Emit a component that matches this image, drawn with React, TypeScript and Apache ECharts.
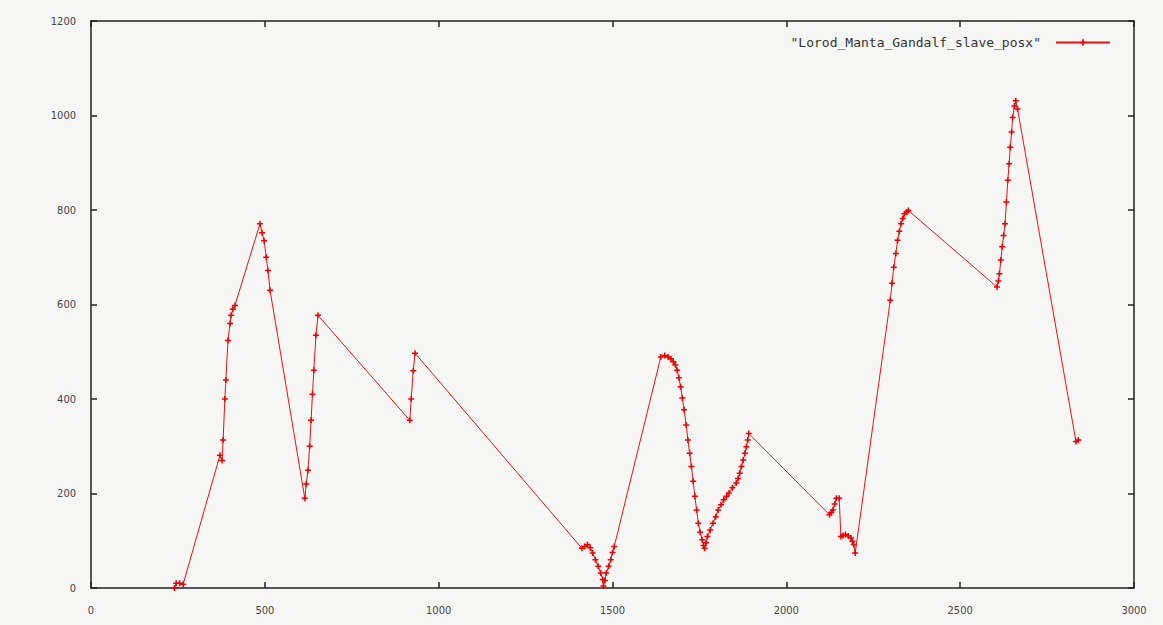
import React, { useEffect, useRef } from "react";
import * as echarts from "echarts";

const seriesName = '"Lorod_Manta_Gandalf_slave_posx"';

const xValues = [
  240, 245, 255, 265,
  371, 377, 380, 385, 388, 394, 400, 403, 408, 414,
  486, 492, 498, 504, 509, 515,
  615, 619, 624, 629, 633, 637, 641, 647, 653,
  917, 921, 927, 932,
  1412, 1420, 1428, 1436, 1443, 1451, 1459, 1466, 1472, 1474, 1478, 1482, 1489, 1495, 1500, 1505,
  1639, 1650, 1660, 1668, 1675, 1681, 1686, 1691, 1696, 1701, 1706, 1712, 1717, 1722, 1727, 1732, 1737, 1742, 1747, 1752, 1758, 1762, 1765, 1769, 1773, 1781, 1789, 1797, 1804, 1812, 1820, 1828, 1835, 1845, 1856, 1861, 1866, 1871, 1876, 1881, 1885, 1889, 1892,
  2124, 2129, 2134, 2139, 2144, 2152, 2157, 2163, 2170, 2178, 2186, 2190, 2194, 2198,
  2299, 2304, 2309, 2315, 2320, 2325, 2330, 2335, 2340, 2346, 2351,
  2606, 2610, 2613, 2617, 2621, 2625, 2629, 2633, 2637, 2641, 2644, 2648, 2651, 2656, 2660, 2665,
  2833, 2840,
];

const yValues = [
  0, 10, 10, 8,
  281, 270, 313, 400, 440, 524, 560, 577, 590, 598,
  771, 752, 735, 700, 672, 630,
  190, 220, 249, 300, 355, 410, 461, 535, 577,
  355, 400, 460, 497,
  84, 88, 92, 85, 74, 60, 46, 32, 18, 4, 16, 32, 46, 60, 75, 88,
  489, 492, 489, 485, 479, 472, 461, 445, 426, 402, 377, 345, 313, 285, 257, 226, 194, 165, 137, 118, 102, 90, 84, 96, 109, 123, 137, 151, 165, 176, 187, 194, 201, 212, 222, 232, 243, 257, 271, 285, 299, 313, 327,
  155, 160, 165, 178, 190, 190, 109, 111, 113, 110, 106, 99, 92, 74,
  609, 645, 679, 708, 736, 755, 771, 782, 792, 796, 799,
  637, 650, 665, 694, 722, 746, 771, 817, 863, 898, 933, 965, 996, 1020, 1031, 1014,
  310, 313,
];

const xTicks = [0, 500, 1000, 1500, 2000, 2500, 3000];
const yTicks = [0, 200, 400, 600, 800, 1000, 1200];

const plusSymbol = "path://M3,0H5V3H8V5H5V8H3V5H0V3H3Z";

export default function App() {
  const ref = useRef<HTMLDivElement>(null);

  useEffect(() => {
    document.body.style.margin = "0";
    document.body.style.background = "#f6f7f5";
    if (!ref.current) return;
    const chart = echarts.init(ref.current, null, { renderer: "svg" });
    const data = xValues.map((x, i) => [x, yValues[i]]);
    const labelStyle = {
      color: "#444",
      fontSize: 11,
      fontFamily: "DejaVu Sans Condensed, DejaVu Sans, sans-serif",
    };
    const axisCommon = {
      axisLine: { show: true, onZero: false, lineStyle: { color: "#222", width: 1.5 } },
      axisTick: { show: true, inside: true, length: 6, lineStyle: { color: "#222", width: 1.5 } },
      splitLine: { show: false },
    };
    chart.setOption({
      animation: false,
      backgroundColor: "#f6f7f5",
      grid: { left: 91, right: 29, top: 21, bottom: 37, containLabel: false },
      legend: {
        show: true,
        data: [seriesName],
        right: 47,
        top: 31,
        align: "right",
        itemWidth: 54,
        itemHeight: 8,
        itemGap: 10,
        textStyle: {
          color: "#333",
          fontSize: 13,
          fontFamily: "DejaVu Sans Mono, monospace",
          padding: [0, 10, 0, 0],
        },
      },
      xAxis: [
        {
          type: "value",
          min: 0,
          max: 3000,
          interval: 500,
          position: "bottom",
          ...axisCommon,
          axisLabel: { ...labelStyle, margin: 17, formatter: (v: number) => (xTicks.includes(v) ? String(v) : "") },
        },
        {
          type: "value",
          min: 0,
          max: 3000,
          interval: 500,
          position: "top",
          ...axisCommon,
          axisLabel: { show: false },
        },
      ],
      yAxis: [
        {
          type: "value",
          min: 0,
          max: 1200,
          interval: 200,
          position: "left",
          ...axisCommon,
          axisLabel: { ...labelStyle, margin: 15, formatter: (v: number) => (yTicks.includes(v) ? String(v) : "") },
        },
        {
          type: "value",
          min: 0,
          max: 1200,
          interval: 200,
          position: "right",
          ...axisCommon,
          axisLabel: { show: false },
        },
      ],
      series: [
        {
          name: seriesName,
          type: "line",
          xAxisIndex: 0,
          yAxisIndex: 0,
          data,
          showAllSymbol: true,
          symbol: plusSymbol,
          symbolSize: 6,
          itemStyle: { color: "#ee0000" },
          lineStyle: { color: "#ee1010", width: 1 },
        },
      ],
    });
    return () => chart.dispose();
  }, []);

  return <div ref={ref} style={{ width: 1163, height: 625 }} />;
}
